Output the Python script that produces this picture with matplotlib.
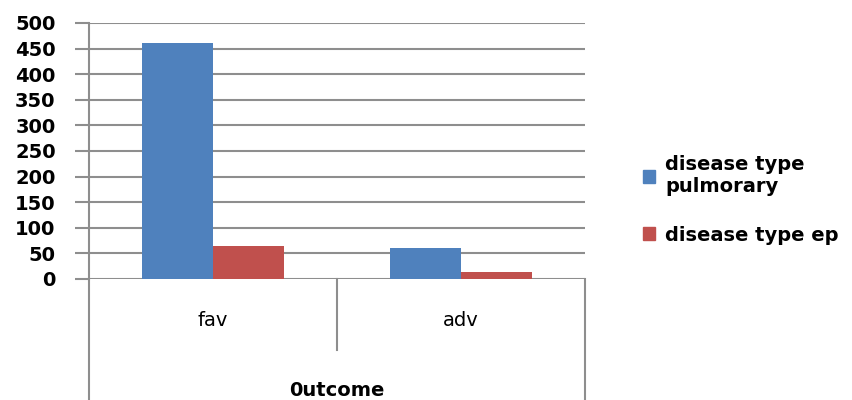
import numpy as np
import matplotlib
matplotlib.use("Agg")
import matplotlib.pyplot as plt
from matplotlib.patches import Patch

plt.rcParams['font.family'] = ['DejaVu Sans']

categories = ["fav", "adv"]
axis_title = "0utcome"
series_names = ["disease type\npulmorary", "disease type ep"]
pulmorary = [460, 61]
ep = [65, 13]
yticks = list(range(0, 501, 50))

BLUE = "#4F81BD"; RED = "#C0504D"; GRID = "#8E8E8E"

fig = plt.figure(figsize=(8.53, 4.0), dpi=100)
ax = fig.add_axes([89/853, 121/400, 496/853, 256/400])

x = np.arange(len(categories)); w = 0.286
ax.bar(x - w/2, pulmorary, w, color=BLUE, zorder=3)
ax.bar(x + w/2, ep, w, color=RED, zorder=3)

ax.set_xlim(-0.5, len(categories) - 0.5)
ax.set_ylim(0, 500)
ax.set_yticks(yticks)
ax.set_yticklabels([str(t) for t in yticks], fontsize=14, fontweight="bold")
ax.tick_params(axis="y", length=10, width=1.5, color=GRID, pad=14)
ax.tick_params(axis="x", length=0, labelbottom=False)
ax.grid(axis="y", color=GRID, lw=1.5, zorder=0)
for s in ("top", "right", "bottom"):
    ax.spines[s].set_visible(False)
ax.spines["left"].set_color(GRID); ax.spines["left"].set_linewidth(1.5)
ax.spines["left"].set_bounds(0, 500)

# two-level category axis drawn below the plot
tr = ax.get_xaxis_transform()
kw = dict(transform=tr, color=GRID, lw=1.5, clip_on=False)
ax.plot([-0.5, -0.5], [0, -0.48], **kw)
ax.plot([1.5, 1.5], [0, -0.48], **kw)
ax.plot([0.5, 0.5], [0, -0.277], **kw)
for xi, c in zip(x, categories):
    ax.text(xi, -0.164, c, transform=tr, ha="center", va="center", fontsize=14)
ax.text(0.5, -0.434, axis_title, transform=tr, ha="center", va="center", fontsize=14, fontweight="bold")

handles = [Patch(color=BLUE, label=series_names[0]), Patch(color=RED, label=series_names[1])]
fig.legend(handles=handles, loc="center left", bbox_to_anchor=(0.733, 0.5), frameon=False,
           prop=dict(size=14, weight="bold"), handlelength=0.65, handleheight=0.65,
           handletextpad=0.5, labelspacing=1.5)

fig.savefig("out.png", dpi=100, facecolor="white")
